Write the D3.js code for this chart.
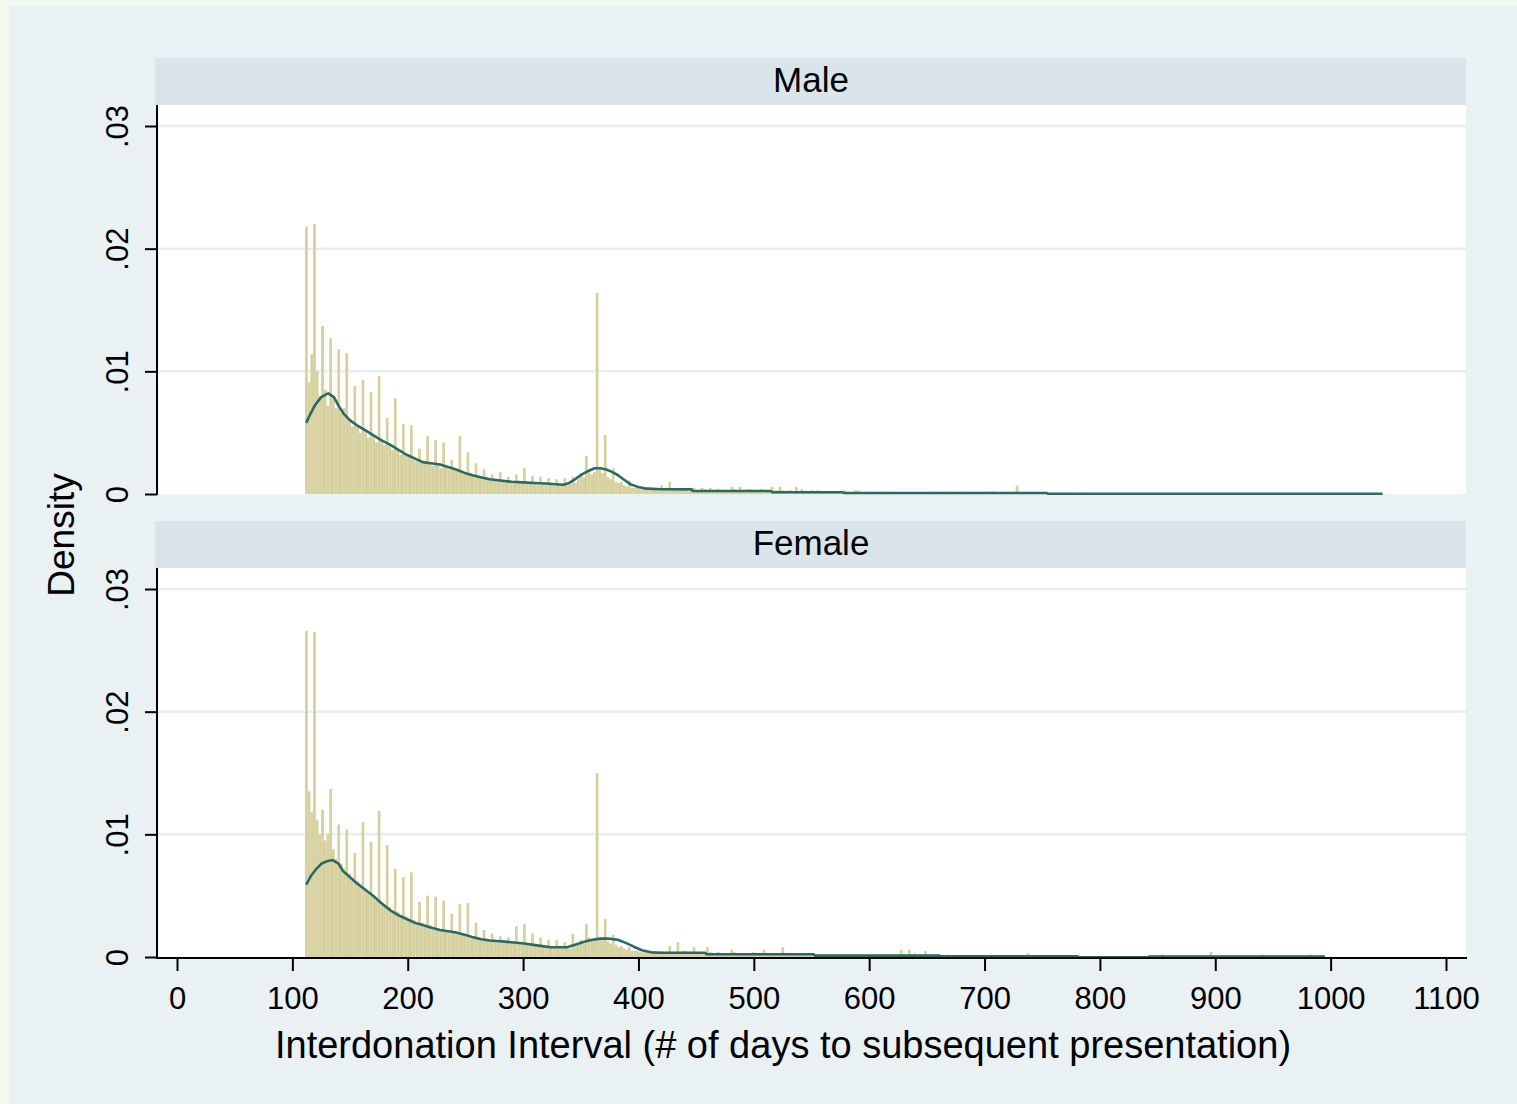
<!DOCTYPE html>
<html><head><meta charset="utf-8">
<script src="https://cdn.jsdelivr.net/npm/d3@7"></script>
<style>
body{margin:0;background:#f4f9ef;}
svg{display:block;font-family:"Liberation Sans",Arial,sans-serif;}
</style>
</head><body>
<svg id="chart" width="1517" height="1104"></svg>
<script>
// ---------------- DATA ----------------
// Histogram bins: first bin starts at day 111, each bin is 7/3 days wide.
const binStart = 111;
const binWidth = 7 / 3;
const densityUnit = 1e-4; // all heights below are density x 10^4

const panelLabels = ["Male", "Female"];

const maleBins = [
  218,91,114, 220,100,80, 137,85,72, 127,78,70, 118,66,70, 115,60,55, 88,56,50,
  93,52,46, 83,48,42, 96,44,40, 62,40,36, 78,36,32, 57,32,30, 56,29,27,
  37,27,25, 47,25,23, 44,24,21, 42,22,20, 28,21,19, 47,19,17, 34,17,15,
  25,15,14, 20,14,12, 16,12,11, 18,11,11, 14,10,10, 16,10,9, 21,9,9,
  15,9,8, 14,8,8, 13,8,7, 12,7,7, 13,7,8, 14,9,12, 17,14,31,
  20,16,18, 164,20,17, 48,14,12, 21,10,9, 10,7,6, 11,5,5, 6,4,4,
  5,4,3, 5,3,3, 7,3,4, 10,3,3, 4,3,3, 4,2,3, 5,3,2,
  5,4,3, 5,3,3, 4,3,3, 3,3,6, 4,3,6, 3,3,4, 4,3,3,
  3,4,3, 3,3,6, 3,3,6, 3,2,3, 3,2,6, 2,4,2, 2,2,3,
  2,3,2, 2,2,2, 2,2,2, 2,1,3, 1,1,1, 3,3,1, 1,1,2,
  1,1,1, 1,1,2, 1,1,1, 1,1,1, 1,1,1, 1,0.5,1, 1,1,1,
  1,2,1, 1,1,1, 1,1,2, 1,1,1, 1,2,1, 1,1,1, 1,1,0.5,
  1,2,1, 2,1,1, 1,1,1, 1,1,1, 7,1,1, 1,0.5,1, 1,1,0.5,
  1,1,1, 0.5,1,0.5, 1,0.5,0.5, 1,0.5,0, 0.5,0,0.5, 1,0,0.5, 0,0.5,0,
  0.5,0,0.5, 0,0.5,0, 0.5,0,0, 0.5,0,0.5, 0,0.5,0, 0.5,0,0, 0,0,0.5,
  0,0.5,0, 0,0,0.5, 0.5,0,0, 0,0,0, 0,0.5,0, 0,0,0, 0,0.5,0,
  0,0,0, 0.5,0,0, 0,0,0, 0,0,0.5, 0,0,0, 0,0,0, 0.5,0,0,
  0,0,0, 0,0,0, 0,0,0, 0,0,0, 0.5,0,0, 0,0,0, 0,0,0,
  0,0,0, 0,0,0, 0,0,0, 0,0,0, 0,0,0, 0,0,0, 0,0,0,
  0.5
];

const femaleBins = [
  266,135,118, 265,112,100, 120,95,100, 137,88,80, 108,76,72, 104,68,64, 85,62,57,
  110,55,52, 94,50,46, 119,45,42, 91,41,37, 72,37,33, 65,33,31, 69,30,28,
  45,28,26, 50,26,24, 49,23,22, 46,21,20, 35,20,19, 43,19,17, 44,17,16,
  28,16,15, 22,15,14, 19,14,13, 17,14,12, 16,12,12, 25,11,11, 27,11,10,
  19,10,9, 16,9,8, 14,8,8, 14,8,7, 12,8,7, 19,9,10, 14,11,27,
  16,13,14, 150,16,14, 31,13,11, 18,10,8, 9,7,6, 8,5,5, 5,4,4,
  4,4,3, 5,4,3, 5,4,4, 9,4,3, 12,4,5, 5,4,4, 8,4,3,
  4,3,8, 4,3,3, 4,3,3, 3,3,6, 4,3,3, 3,3,3, 3,4,3,
  3,3,6, 3,2,3, 3,3,3, 8,3,2, 3,2,2, 2,3,2, 2,2,3,
  2,2,2, 1,2,1, 2,1,1, 1,1,2, 1,2,1, 2,1,1, 1,2,1,
  1,1,2, 2,1,1, 1,2,1, 1,2,6, 2,1,6, 2,3,1, 2,1,5,
  1,1,1, 2,1,1, 1,2,1, 1,1,1, 1,1,1, 1,0.5,1, 1,1,0.5,
  1,1,1, 0.5,1,0.5, 1,0.5,1, 0.5,1,0.5, 1,1,0.5, 1,3,1, 1,0.5,1,
  0.5,1,0.5, 0.5,0.5,1, 0,0.5,0, 1,0,0.5, 0,0.5,0, 0,0,0, 0,0,0,
  0,0,0, 0,0,0, 0,0,0, 0,0,0, 0,0,0, 0,0,0, 0,0,0,
  0,0,0.5, 2,0,0, 0,1,0, 0,0,0.5, 0,0,0, 0,0.5,0, 0,0,0,
  4,0,0.5, 0,0,0, 0,0.5,0, 0,0,0, 0,0,0.5, 0,1,0, 0,2,0,
  0,0,0, 0,0.5,0, 0,0,0, 0,0,0.5, 0,0,0, 0,2,0, 0,0,0,
  1,0,0
];

// Kernel density curves: [day, density x 10^4]
const maleDensity = [
  [112,58],[116,66],[120,73],[125,79],[131,82],[136,79],[140,72],[144,66],[150,60],[156,56],
  [163,52],[170,48],[177,44],[185,40],[192,36],[199,32],[206,29],[213,26],[220,25],[228,24],
  [235,22],[242,20],[250,17],[257,15],[264,13.5],[271,12],[280,11],[290,10],[300,9.5],[310,9],
  [320,8.5],[328,8],[335,7.5],[340,9],[345,12],[351,16],[357,19],[362,21],[367,21],[372,20],
  [377,18],[382,15.5],[387,12],[393,8],[399,6],[405,4.6],[412,4.2],[420,3.9],[446,3.8],[447,2.4],
  [515,2.4],[516,1.4],[577,1.4],[578,0.8],[754,0.8],[755,0.15],[1045,0.15]
];
const femaleDensity = [
  [112,59],[116,66],[120,71],[125,76],[130,78],[135,79],[140,76],[144,70],[150,65],[156,60],
  [163,55],[170,50],[177,44],[185,38],[192,34],[199,31],[206,28],[213,26],[220,24],[228,22],
  [235,21],[242,20],[250,18],[257,16],[264,14.5],[271,13.5],[280,12.8],[290,12],[301,11],[312,9.5],
  [324,8],[338,8],[345,10],[353,12.5],[360,14],[367,15],[374,15],[382,14],[389,11.5],[396,8.4],
  [403,5.5],[411,3.8],[420,3.5],[458,3.5],[459,2.2],[552,2.2],[553,1.1],[661,1.1],[662,0.5],
  [781,0.5],[782,-0.3],[842,-0.3],[843,0.4],[995,0.4]
];

const yTicks = [0, 0.01, 0.02, 0.03];
const yTickLabels = ["0", ".01", ".02", ".03"];
const xTicks = [0,100,200,300,400,500,600,700,800,900,1000,1100];
const xTickLabels = ["0","100","200","300","400","500","600","700","800","900","1000","1100"];
const xTitle = "Interdonation Interval (# of days to subsequent presentation)";
const yTitle = "Density";

// ---------------- DRAW ----------------
const svg = d3.select("#chart");
const W = 1517, H = 1104;
svg.append("rect").attr("x",0).attr("y",0).attr("width",W).attr("height",H).attr("fill","#f4f9ef");
svg.append("rect").attr("x",9).attr("y",6).attr("width",W-9).attr("height",H-6).attr("fill","#eaf1f3");

const plotL = 157, plotR = 1466;
const x = d3.scaleLinear().domain([0,1100]).range([177,1446]);

const barColor = "#d6cf9e";
const lineColor = "#2a6a62";

const panels = [
  {label: panelLabels[0], bins: maleBins, dens: maleDensity, stripTop: 58, plotTop: 105, zeroY: 494},
  {label: panelLabels[1], bins: femaleBins, dens: femaleDensity, stripTop: 521, plotTop: 568, zeroY: 957}
];

panels.forEach(p => {
  const y = d3.scaleLinear().domain([0, 0.03]).range([p.zeroY, p.zeroY - 368]);
  const g = svg.append("g");
  // strip
  g.append("rect").attr("x",155).attr("y",p.stripTop).attr("width",plotR-155)
    .attr("height",p.plotTop-p.stripTop).attr("fill","#d9e5ea");
  g.append("text").attr("x",811).attr("y",p.stripTop+34).attr("text-anchor","middle")
    .attr("font-size",35).attr("fill","#000").text(p.label);
  // plot area
  g.append("rect").attr("x",plotL).attr("y",p.plotTop).attr("width",plotR-plotL)
    .attr("height",p.zeroY-p.plotTop).attr("fill","#ffffff");
  // grid
  g.selectAll(".grid").data(yTicks.filter(t => t > 0)).join("line")
    .attr("x1",plotL).attr("x2",plotR).attr("y1",d=>y(d)).attr("y2",d=>y(d))
    .attr("stroke","#e6eef1").attr("stroke-width",2.5);
  // bars
  const clipId = "clip" + p.zeroY;
  svg.append("clipPath").attr("id",clipId).append("rect")
    .attr("x",plotL).attr("y",p.plotTop).attr("width",plotR-plotL).attr("height",p.zeroY-p.plotTop+1);
  const bg = g.append("g").attr("clip-path",`url(#${clipId})`);
  bg.selectAll("rect.bar").data(p.bins.map((v,i)=>({i,v})).filter(d=>d.v>0)).join("rect")
    .attr("class","bar")
    .attr("x",d=>x(binStart + d.i*binWidth))
    .attr("width",d=>x(binStart + (d.i+1)*binWidth) - x(binStart + d.i*binWidth))
    .attr("y",d=>y(d.v*densityUnit))
    .attr("height",d=>y(0)-y(d.v*densityUnit))
    .attr("fill",barColor);
  // density
  const line = d3.line().x(d=>x(d[0])).y(d=>y(d[1]*densityUnit));
  bg.append("path").attr("d",line(p.dens)).attr("fill","none")
    .attr("stroke",lineColor).attr("stroke-width",2.6).attr("stroke-linejoin","round");
  // y axis
  const ax = g.append("g").attr("transform",`translate(${plotL},0)`)
    .call(d3.axisLeft(y).tickValues(yTicks).tickFormat((d,i)=>yTickLabels[i]).tickSize(12).tickSizeOuter(0));
  ax.attr("font-size",31).attr("font-family",null);
  ax.select(".domain").remove();
  ax.selectAll(".tick line").attr("stroke","#000").attr("stroke-width",2);
  ax.selectAll(".tick text").attr("transform","rotate(-90)").attr("x",0).attr("y",-29)
    .attr("dy",null).attr("text-anchor","middle").attr("fill","#000");
  g.append("line").attr("x1",plotL).attr("x2",plotL).attr("y1",p.plotTop).attr("y2",p.zeroY+1)
    .attr("stroke","#000").attr("stroke-width",2);
});

// x axis (bottom panel)
const xa = svg.append("g").attr("transform","translate(0,958)")
  .call(d3.axisBottom(x).tickValues(xTicks).tickFormat((d,i)=>xTickLabels[i]).tickSize(13).tickSizeOuter(0));
xa.attr("font-size",31).attr("font-family",null);
xa.select(".domain").remove();
xa.selectAll(".tick line").attr("stroke","#000").attr("stroke-width",2);
xa.selectAll(".tick text").attr("y",51).attr("dy",null).attr("fill","#000");
svg.append("line").attr("x1",plotL-1).attr("x2",plotR+1).attr("y1",958).attr("y2",958)
  .attr("stroke","#000").attr("stroke-width",2);

// titles
svg.append("text").attr("x",783).attr("y",1058).attr("text-anchor","middle")
  .attr("font-size",38).attr("fill","#000").text(xTitle);
svg.append("text").attr("transform","translate(74,535) rotate(-90)").attr("text-anchor","middle")
  .attr("font-size",37).attr("fill","#000").text(yTitle);
</script>
</body></html>
